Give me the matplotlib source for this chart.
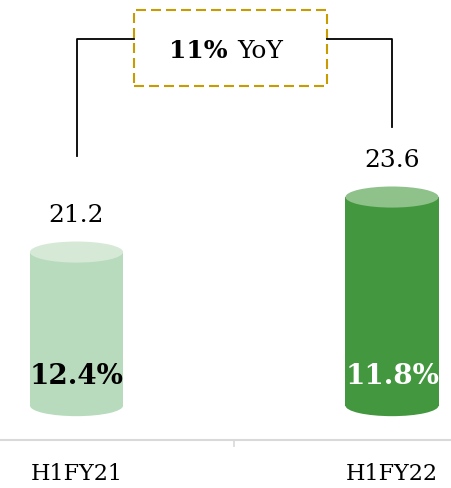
import matplotlib.pyplot as plt
from matplotlib.patches import Rectangle, Ellipse

# datos
categorias = ["H1FY21", "H1FY22"]
valores = [21.2, 23.6]
margenes = ["12.4%", "11.8%"]
crecimiento = "11%"

# estilo
plt.rcParams['font.family'] = ['DejaVu Serif']
color_cuerpo = ["#b9dbbd", "#43983f"]
color_tapa = ["#d6e9d7", "#8fc28b"]
color_texto_pct = ["black", "white"]
base = 14.5          # donde apoya el cilindro
ancho = 0.295        # ancho del cilindro (unidades de x)
semi_elipse = 0.46   # semialto de la elipse (unidades de y)

fig = plt.figure(figsize=(4.51, 4.89), dpi=100)
ax = fig.add_axes([0, 48 / 489, 1, 441 / 489])
ax.set_xlim(-0.2425, 1.187)
ax.set_ylim(13.0, 32.24)

for i, v in enumerate(valores):
    ax.add_patch(Rectangle((i - ancho / 2, base), ancho, v - base,
                           facecolor=color_cuerpo[i], edgecolor='none'))
    ax.add_patch(Ellipse((i, base), ancho, 2 * semi_elipse,
                         facecolor=color_cuerpo[i], edgecolor='none'))
    ax.add_patch(Ellipse((i, v), ancho, 2 * semi_elipse,
                         facecolor=color_tapa[i], edgecolor='none'))
    ax.annotate(f"{v:.1f}", xy=(i, v), xytext=(0, 27), textcoords='offset points',
                ha='center', va='center', fontsize=18)
    ax.annotate(margenes[i], xy=(i, base), xytext=(0, 22), textcoords='offset points',
                ha='center', va='center', fontsize=20, fontweight='bold',
                color=color_texto_pct[i])

# corchete YoY
y_corchete = 30.49
ax.plot([0, 0, 0.182], [valores[0] + 4.2, y_corchete, y_corchete], color='black', lw=1.3)
ax.plot([0.794, 1, 1], [y_corchete, y_corchete, valores[1] + 3.05], color='black', lw=1.3)
ax.add_patch(Rectangle((0.182, 28.44), 0.794 - 0.182, 31.76 - 28.44, fill=False,
                       edgecolor='#c89c00', lw=1.5, linestyle=(0, (4.8, 2.4))))
ax.text(0.478, 30.0, crecimiento, ha='right', va='center', fontsize=18, fontweight='bold')
ax.text(0.508, 30.0, "YoY", ha='left', va='center', fontsize=18)

# ejes
for s in ['left', 'right', 'top']:
    ax.spines[s].set_visible(False)
ax.spines['bottom'].set_color('#d9d9d9')
ax.spines['bottom'].set_linewidth(1.5)
ax.set_yticks([])
ax.set_xticks([0, 1])
ax.set_xticklabels(categorias, fontsize=16)
ax.tick_params(axis='x', length=0, pad=16)
ax.set_xticks([0.5], minor=True)
ax.tick_params(axis='x', which='minor', length=5, width=1.2, color='#d9d9d9')

fig.savefig("out.png", dpi=100)
